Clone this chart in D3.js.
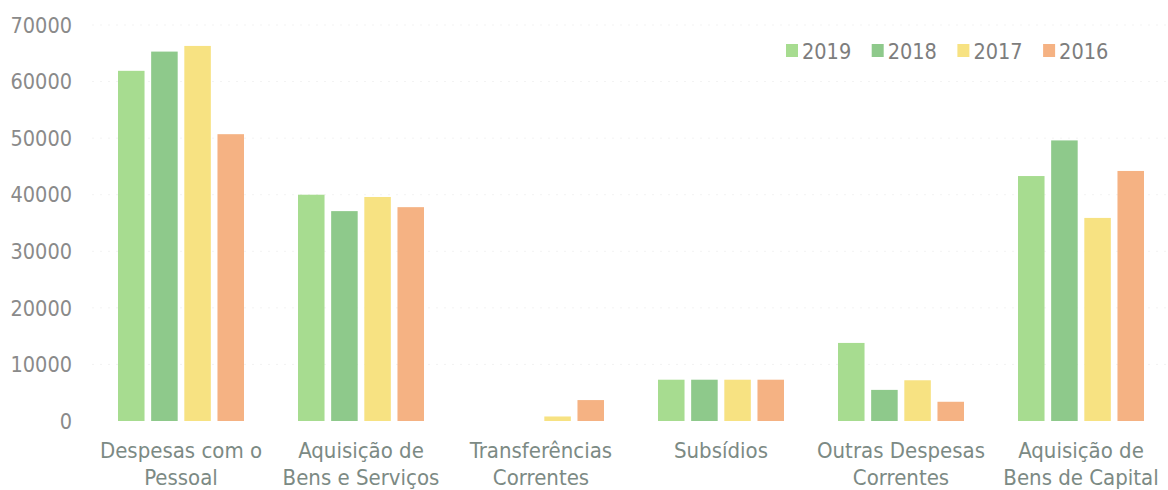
<!DOCTYPE html>
<html>
<head>
<meta charset="utf-8">
<script src="https://cdn.jsdelivr.net/npm/d3@7"></script>
<style>
  html, body { margin: 0; padding: 0; background: #fff; }
  svg { display: block; }
  text { font-family: "DejaVu Sans Condensed", "DejaVu Sans", sans-serif; font-stretch: condensed; }
  .tick-label { font-size: 21.5px; fill: #8a8a8a; }
  .cat-label { font-size: 22px; fill: #7c8a84; }
  .legend-label { font-size: 21.5px; fill: #7d7d7d; }
</style>
</head>
<body>
<svg id="chart" width="1168" height="490"></svg>
<script>
(function () {
  "use strict";

  const categories = [
    ["Despesas com o", "Pessoal"],
    ["Aquisição de", "Bens e Serviços"],
    ["Transferências", "Correntes"],
    ["Subsídios"],
    ["Outras Despesas", "Correntes"],
    ["Aquisição de", "Bens de Capital"],
  ];
  const years = ["2019", "2018", "2017", "2016"];
  const values2019 = [61900, 40000, 0, 7300, 13800, 43300];
  const values2018 = [65300, 37100, 0, 7300, 5500, 49600];
  const values2017 = [66300, 39600, 800, 7300, 7200, 35900];
  const values2016 = [50700, 37800, 3700, 7300, 3400, 44200];
  const yTicks = [0, 10000, 20000, 30000, 40000, 50000, 60000, 70000];

  const seriesByYear = { "2019": values2019, "2018": values2018, "2017": values2017, "2016": values2016 };
  const colorByYear = { "2019": "#a7dc90", "2018": "#8ec98b", "2017": "#f7e282", "2016": "#f5b283" };

  const svg = d3.select("#chart");
  const catKeys = categories.map((c) => c.join(" "));

  const x0 = d3.scaleBand()
    .domain(catKeys)
    .range([91, 1171])
    .paddingInner(0.3)
    .paddingOuter(0.15);

  const x1 = d3.scaleBand()
    .domain(years)
    .range([0, x0.bandwidth()])
    .paddingInner(0.2);

  const y = d3.scaleLinear().domain([0, 70000]).range([421, 25]);

  // faint gridlines
  svg.append("g")
    .selectAll("line")
    .data(yTicks.slice(1))
    .join("line")
    .attr("x1", 92)
    .attr("x2", 1168)
    .attr("y1", (d) => y(d))
    .attr("y2", (d) => y(d))
    .attr("stroke", "#f3f3f3")
    .attr("stroke-width", 1)
    .attr("stroke-dasharray", "2,6");

  // y axis labels
  svg.append("g")
    .selectAll("text")
    .data(yTicks)
    .join("text")
    .attr("class", "tick-label")
    .attr("x", 72)
    .attr("y", (d) => y(d))
    .attr("dy", "0.36em")
    .attr("text-anchor", "end")
    .text((d) => d);

  // bars
  const groups = svg.append("g")
    .selectAll("g")
    .data(catKeys)
    .join("g")
    .attr("transform", (d) => `translate(${x0(d)},0)`);

  groups.selectAll("rect")
    .data((d, i) => years.map((yr) => ({ yr, v: seriesByYear[yr][i] })))
    .join("rect")
    .attr("x", (d) => x1(d.yr))
    .attr("width", x1.bandwidth())
    .attr("y", (d) => y(d.v))
    .attr("height", (d) => y(0) - y(d.v))
    .attr("fill", (d) => colorByYear[d.yr]);

  // category labels
  const labels = svg.append("g")
    .selectAll("text")
    .data(categories)
    .join("text")
    .attr("class", "cat-label")
    .attr("text-anchor", "middle")
    .attr("x", (d, i) => x0(catKeys[i]) + x0.bandwidth() / 2)
    .attr("y", 458);

  labels.selectAll("tspan")
    .data((d) => d)
    .join("tspan")
    .attr("x", function () { return d3.select(this.parentNode).attr("x"); })
    .attr("dy", (d, i) => (i === 0 ? 0 : 27))
    .text((d) => d);

  // legend
  const legend = svg.append("g")
    .selectAll("g")
    .data(years)
    .join("g")
    .attr("transform", (d, i) => `translate(${786 + i * 85.7},44)`);

  legend.append("rect")
    .attr("width", 12)
    .attr("height", 13)
    .attr("fill", (d) => colorByYear[d]);

  legend.append("text")
    .attr("class", "legend-label")
    .attr("x", 16)
    .attr("y", 7)
    .attr("dy", "0.36em")
    .text((d) => d);
})();
</script>
</body>
</html>
